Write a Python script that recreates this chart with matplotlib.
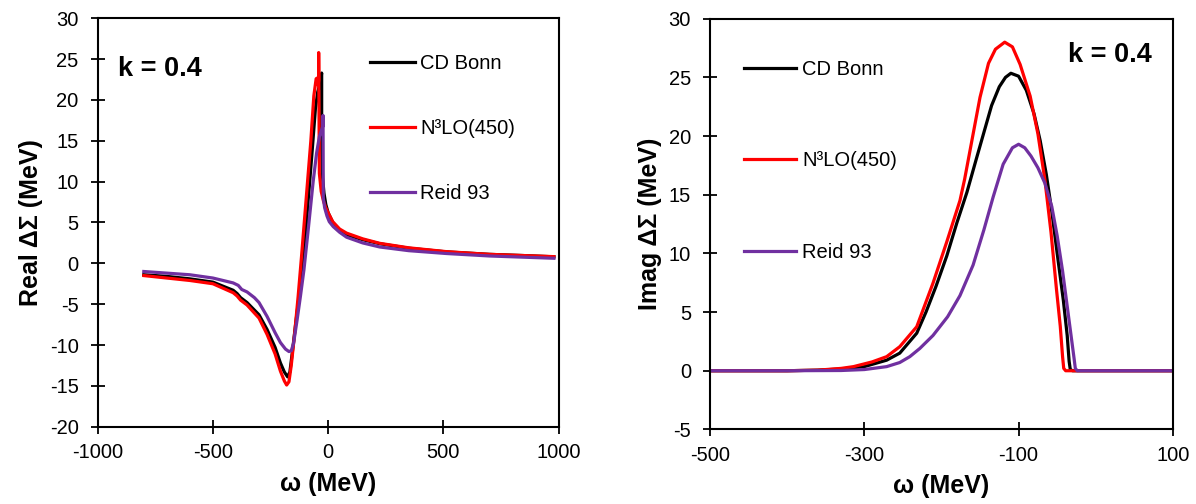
import numpy as np
import matplotlib
matplotlib.use("Agg")
import matplotlib.pyplot as plt

plt.rcParams['font.family'] = ['Liberation Sans', 'DejaVu Sans']
plt.rcParams['axes.unicode_minus'] = False

# ---------------- Real part (left panel) ----------------
w_bonn_re = [-800, -700, -600, -500, -412, -395, -380, -352, -300, -265, -230, -207, -190, -176,
             -166, -155, -140, -125, -108, -90, -70, -55, -45, -35, -28, -28, -24, -18, -10, 0,
             20, 50, 80, 150, 224, 350, 514, 700, 850, 980]
re_bonn = [-1.4, -1.6, -1.9, -2.3, -3.3, -3.7, -4.2, -4.8, -6.3, -8.1, -10.3, -12.2, -13.3, -13.9,
           -13.3, -10.8, -7.2, -3.8, 0.0, 6.5, 13.5, 19.0, 21.0, 22.0, 23.3, 14.0, 10.5, 8.6, 7.2, 6.2,
           5.0, 4.0, 3.5, 2.9, 2.4, 1.85, 1.4, 1.1, 0.95, 0.8]

w_n3lo_re = [-800, -700, -600, -500, -412, -395, -380, -352, -300, -265, -230, -207, -190, -180,
             -170, -160, -145, -130, -115, -95, -75, -62, -52, -46, -43, -41, -41, -38, -30, -20, -10, 0,
             20, 50, 80, 150, 224, 350, 514, 700, 850, 980]
re_n3lo = [-1.5, -1.8, -2.1, -2.5, -3.6, -4.0, -4.5, -5.1, -6.7, -8.7, -11.1, -13.2, -14.4, -14.9,
           -14.5, -12.5, -8.5, -4.0, 1.0, 8.0, 15.0, 20.5, 22.6, 22.7, 21.8, 22.5, 25.8, 11.0, 8.8, 7.6, 6.8, 6.2,
           5.1, 4.2, 3.7, 3.0, 2.45, 1.9, 1.43, 1.1, 0.95, 0.82]

w_reid_re = [-800, -700, -600, -500, -412, -390, -375, -352, -320, -300, -265, -230, -207, -185, -170,
             -160, -150, -135, -120, -105, -85, -65, -50, -38, -30, -23, -22, -21, -15, -5, 5, 22,
             50, 80, 150, 224, 350, 514, 700, 850, 980]
re_reid = [-1.0, -1.2, -1.4, -1.8, -2.4, -2.7, -3.2, -3.5, -4.2, -4.8, -6.5, -8.5, -9.7, -10.5, -10.8,
           -10.7, -9.8, -7.0, -4.0, -0.8, 4.5, 10.0, 13.5, 15.5, 16.2, 16.8, 18.1, 8.0, 6.8, 5.8, 5.1, 4.5,
           3.8, 3.2, 2.5, 2.0, 1.55, 1.2, 0.9, 0.75, 0.62]

# ---------------- Imaginary part (right panel) ----------------
w_bonn_im = [-500, -400, -360, -330, -300, -271, -254, -232, -220, -207, -193, -180, -167, -155,
             -145, -135, -125, -117, -110, -100, -90, -80, -72, -64, -57, -50, -42, -37, -34.5, -33, -30, 0, 100]
im_bonn = [0.0, 0.0, 0.05, 0.15, 0.35, 0.9, 1.5, 3.2, 5.0, 7.2, 9.8, 12.6, 15.2, 18.0,
           20.3, 22.6, 24.2, 25.0, 25.35, 25.1, 23.9, 21.9, 19.6, 16.7, 13.6, 10.0, 6.0, 3.0, 0.8, 0.1, 0.0, 0.0, 0.0]

w_n3lo_im = [-500, -400, -360, -330, -314, -290, -271, -254, -232, -211, -193, -176, -170, -160,
             -150, -139, -130, -118, -108, -98, -85, -75, -66, -58, -51, -46, -43, -41.5, -39, 0, 100]
im_n3lo = [0.0, 0.0, 0.05, 0.2, 0.35, 0.75, 1.2, 2.05, 3.75, 7.45, 11.0, 14.5, 16.3, 19.8,
           23.3, 26.2, 27.4, 28.0, 27.6, 26.1, 23.4, 20.2, 16.3, 11.8, 7.0, 3.8, 1.2, 0.2, 0.0, 0.0, 0.0]

w_reid_im = [-500, -400, -330, -300, -271, -254, -241, -228, -211, -192, -176, -159, -145, -133,
             -120, -108, -100, -92, -84, -75, -66, -57, -50, -43, -37, -32, -28, -26.5, -24, 0, 100]
im_reid = [0.0, 0.0, 0.02, 0.1, 0.35, 0.7, 1.2, 1.9, 3.0, 4.6, 6.4, 9.0, 12.0, 14.8,
           17.6, 19.0, 19.3, 19.0, 18.3, 17.3, 16.0, 14.0, 11.5, 8.5, 5.5, 3.0, 1.0, 0.2, 0.0, 0.0, 0.0]

labels = ["CD Bonn", "N\u00b3LO(450)", "Reid 93"]
colors = ["black", "#ff0000", "#7030a0"]

fig = plt.figure(figsize=(11.96, 5.04), dpi=100)
ax1 = fig.add_axes([0.0817, 0.1534, 0.3853, 0.8103])
ax2 = fig.add_axes([0.5936, 0.148, 0.3871, 0.8149])

lw = 2.3
for w, v, c, lab in zip([w_bonn_re, w_n3lo_re, w_reid_re], [re_bonn, re_n3lo, re_reid], colors, labels):
    ax1.plot(w, v, color=c, lw=lw, label=lab, solid_joinstyle='round')
for w, v, c, lab in zip([w_bonn_im, w_n3lo_im, w_reid_im], [im_bonn, im_n3lo, im_reid], colors, labels):
    ax2.plot(w, v, color=c, lw=lw, label=lab, solid_joinstyle='round')

ax1.set_xlim(-1000, 1000)
ax1.set_ylim(-20, 30)
ax1.set_xticks([-1000, -500, 0, 500, 1000])
ax1.set_yticks(np.arange(-20, 31, 5))
ax1.set_xlabel("\u03c9 (MeV)", fontsize=18, fontweight='bold', labelpad=7)
ax1.set_ylabel("Real \u0394\u03a3 (MeV)", fontsize=18, fontweight='bold', labelpad=5)
ax1.text(0.043, 0.875, "k = 0.4", transform=ax1.transAxes, fontsize=19.5, fontweight='bold', va='center')

ax2.set_xlim(-500, 100)
ax2.set_ylim(-5, 30)
ax2.set_xticks([-500, -300, -100, 100])
ax2.set_yticks(np.arange(-5, 31, 5))
ax2.set_xlabel("\u03c9 (MeV)", fontsize=18, fontweight='bold', labelpad=7)
ax2.set_ylabel("Imag \u0394\u03a3 (MeV)", fontsize=18, fontweight='bold', labelpad=5)
ax2.text(0.773, 0.912, "k = 0.4", transform=ax2.transAxes, fontsize=19.5, fontweight='bold', va='center')

for ax in (ax1, ax2):
    for s in ax.spines.values():
        s.set_linewidth(1.5)
    ax.tick_params(direction='inout', length=9.4, width=1.3, labelsize=14.5)
    ax.tick_params(axis='y', pad=9)
    ax.tick_params(axis='x', pad=7)

ax1.legend(loc='upper left', bbox_to_anchor=(0.591, 0.913), frameon=False, fontsize=14.5,
           borderpad=0, borderaxespad=0, handlelength=2.24, handletextpad=0.25, labelspacing=2.28)
ax2.legend(loc='upper left', bbox_to_anchor=(0.073, 0.9), frameon=False, fontsize=14.5,
           borderpad=0, borderaxespad=0, handlelength=2.6, handletextpad=0.3, labelspacing=3.6)

fig.savefig("out.png", dpi=100)
